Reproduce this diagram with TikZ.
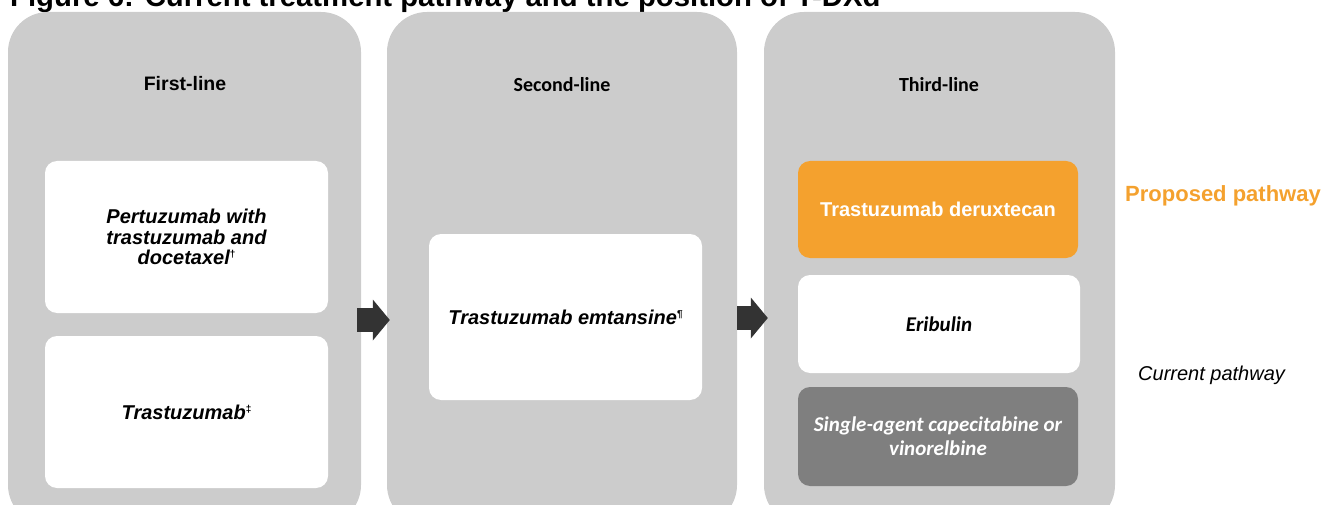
\documentclass[tikz,border=0pt]{standalone}
\usepackage{fontspec}
\setmainfont{Liberation Sans}
\newfontfamily\calibrifont{Carlito}
\usetikzlibrary{calc,arrows.meta}
\definecolor{panelgray}{HTML}{CCCCCC}
\definecolor{tdorange}{HTML}{F4A12E}
\definecolor{boxgray}{HTML}{7F7F7F}
\definecolor{arrowdark}{HTML}{333333}
\newcommand{\notemark}[1]{\raisebox{7pt}{\fontsize{10}{10}\selectfont\upshape #1}}

\begin{document}
\begin{tikzpicture}[
        %We set the units to pixels and define some styles
        x=1pt, y=-1pt,
        panel/.style={fill=panelgray, rounded corners=40pt, inner sep=0pt,
            minimum height=513pt},
        option box/.style={rounded corners=12pt, inner sep=0pt, align=center},
        white box/.style={option box, fill=white, text=black},
        arial text/.style={font=\fontsize{20}{20.5}\selectfont\bfseries\itshape},
        calibri text/.style={font=\calibrifont\fontsize{21}{24}\selectfont\bfseries\itshape},
        heading/.style={font=\calibrifont\fontsize{20}{22}\selectfont\bfseries},
        flowarrow/.style={arrowdark, line width=24pt,
            -{Triangle[length=17pt, width=41pt, line width=0pt]}},
        every node/.style={color=black,}
     ]
    % The page is fixed to the size of the figure
    \useasboundingbox (0,0) rectangle (1322,505);
    \clip (0,0) rectangle (1322,505);

    % Title, cut at the top edge
    \node[anchor=base west, inner sep=0pt,
        font=\fontsize{29.3}{30}\selectfont\bfseries] (title) at (10,6.5)
        {Figure 6: Current treatment pathway and the position of T-DXd};

    % The three lines of treatment
    \node[panel, minimum width=353pt] (p1) at (184.5,268.5) {};
    \node[panel, minimum width=350pt] (p2) at (562,268.5) {};
    \node[panel, minimum width=351pt] (p3) at (939.5,268.5) {};

    \node[font=\fontsize{19.5}{21}\selectfont\bfseries] (h1) at (185,84) {First-line};
    \node[heading] (h2) at (562,85) {Second-line};
    \node[heading] (h3) at (939,85) {Third-line};

    % First-line options
    \node[white box, arial text, minimum width=283pt, minimum height=152pt] (pertu)
        at (186.5,237) {Pertuzumab with\\trastuzumab and\\docetaxel\notemark{†}};
    \node[white box, arial text, minimum width=283pt, minimum height=152pt] (trast)
        at (186.5,412) {Trastuzumab\notemark{‡}};

    % Second-line option
    \node[white box, arial text, minimum width=273pt, minimum height=166pt] (sec)
        at (565.5,317) {Trastuzumab emtansine\notemark{¶}};

    % Third-line options
    \node[option box, fill=tdorange, text=white, minimum width=280pt, minimum height=97pt,
        font=\fontsize{20}{22}\selectfont\bfseries] (tdxd)
        at (938,209.5) {Trastuzumab deruxtecan};
    \node[white box, calibri text, minimum width=282pt, minimum height=98pt] (eri)
        at (939,324) {Eribulin};
    \node[option box, fill=boxgray, text=white, calibri text, minimum width=280pt,
        minimum height=99pt] (cape)
        at (938,436.5) {Single-agent capecitabine or\\vinorelbine};

    % The pathway labels
    \node[anchor=west, inner sep=0pt, text=tdorange,
        font=\fontsize{22}{24}\selectfont\bfseries] (proposed) at (1125,196) {Proposed pathway};
    \node[anchor=west, inner sep=0pt,
        font=\fontsize{20}{22}\selectfont\itshape] (current) at (1138,375) {Current pathway};

    % Arrows between the lines
    \draw[flowarrow] ($(p1.east |- sec.center)+(-4,3)$) -- ($(p2.west |- sec.center)+(3,3)$);
    \draw[flowarrow] ($(p2.east |- sec.center)+(0,1)$) -- ($(p3.west |- sec.center)+(4,1)$);
\end{tikzpicture}
\end{document}
